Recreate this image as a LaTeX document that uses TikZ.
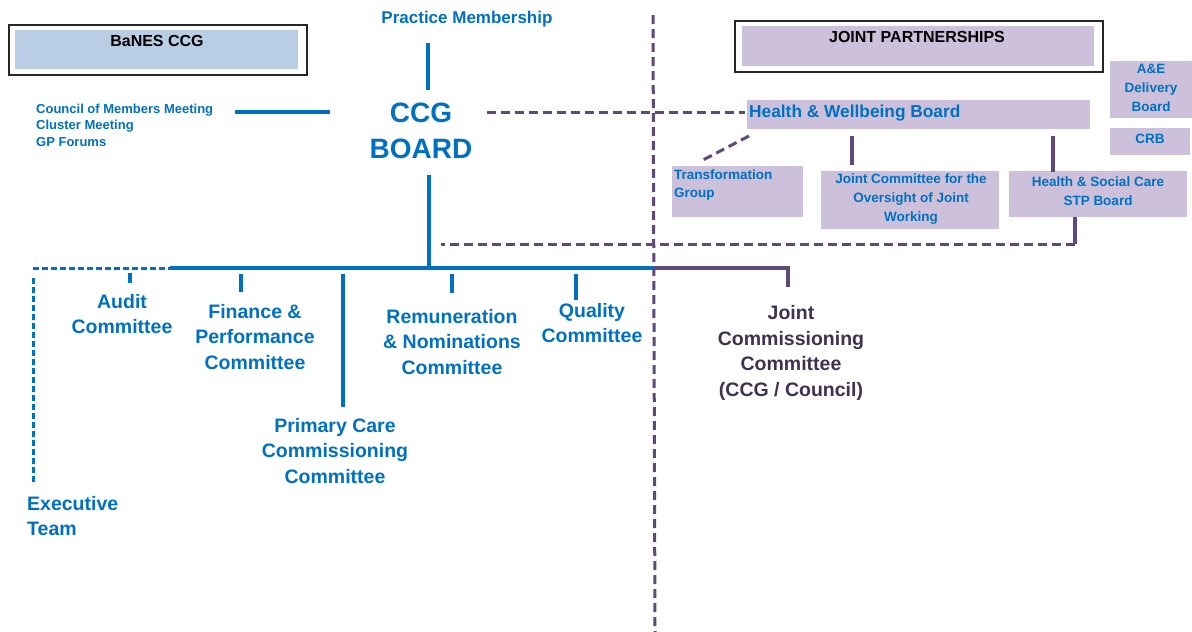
\documentclass[tikz,border=0pt]{standalone}
\usepackage{fontspec}
\setmainfont{Liberation Sans}
\definecolor{cblue}{HTML}{0070C0}
\definecolor{cpurp}{HTML}{5F497A}
\definecolor{cdark}{HTML}{3F3151}
\definecolor{lilac}{HTML}{CCC0DA}
\definecolor{lblue}{HTML}{B9CDE5}
\begin{document}
\begin{tikzpicture}[x=1pt,y=-1pt,
  bl/.style={draw=cblue,line width=3.4pt},
  bld/.style={draw=cblue,line width=3pt,dash pattern=on 6pt off 3pt},
  pl/.style={draw=cpurp,line width=3.4pt},
  pld/.style={draw=cpurp,line width=3pt,dash pattern=on 9pt off 5pt},
  big/.style={font=\bfseries\fontsize{19.5}{25.8}\selectfont,text=cblue,align=center,inner sep=0pt},
  sml/.style={font=\bfseries\fontsize{13.5}{18.8}\selectfont,text=cblue,inner sep=0pt},
  lbox/.style={fill=lilac,inner sep=0pt,anchor=north west},
  outerbox/.style={draw=black!85,line width=1.5pt,fill=white,inner sep=0pt,anchor=north west},
  head/.style={font=\bfseries\fontsize{16}{19}\selectfont,text=black,inner sep=0pt}]
\useasboundingbox (0,0) rectangle (1192,632);
\fill[white] (0,0) rectangle (1192,632);

% header boxes
\node[outerbox,minimum width=298pt,minimum height=50pt] (banesO) at (8,24) {};
\node[lbox,fill=lblue,minimum width=283pt,minimum height=39pt] (banesI) at (15,30) {};
\node[head] (banes) at (157,41) {BaNES CCG};
\node[outerbox,minimum width=368pt,minimum height=51pt] (jpO) at (734,20) {};
\node[lbox,minimum width=352pt,minimum height=40pt] (jpI) at (742,26) {};
\node[head] (jp) at (917,37) {JOINT PARTNERSHIPS};

% partnership boxes
\node[lbox,minimum width=343pt,minimum height=29pt] (hwbbox) at (747,100) {};
\node[font=\bfseries\fontsize{17.3}{20}\selectfont,text=cblue,inner sep=0pt,anchor=west] (hwb) at (749,113) {Health \& Wellbeing Board};
\node[lbox,minimum width=82pt,minimum height=57pt] (aebox) at (1110,61) {};
\node[sml,align=center] (ae) at (1151,88) {A\&E\\Delivery\\Board};
\node[lbox,minimum width=80pt,minimum height=27pt] (crbbox) at (1110,128) {};
\node[sml] (crb) at (1150,139) {CRB};
\node[lbox,minimum width=131pt,minimum height=51pt] (tgbox) at (672,166) {};
\node[sml,align=left,anchor=west] (tg) at (674,185) {Transformation\\Group};
\node[lbox,minimum width=178pt,minimum height=58pt] (jcbox) at (821,171) {};
\node[sml,align=center] (jc) at (911,199) {Joint Committee for the\\Oversight of Joint\\Working};
\node[lbox,minimum width=178pt,minimum height=46pt] (stpbox) at (1009,171) {};
\node[sml,align=center] (stp) at (1098,191) {Health \& Social Care\\STP Board};

% CCG side texts
\node[font=\bfseries\fontsize{17}{20}\selectfont,text=cblue,inner sep=0pt] (pm) at (467,19) {Practice Membership};
\node[font=\bfseries\fontsize{28}{36}\selectfont,text=cblue,align=center,inner sep=0pt] (board) at (421,131) {CCG\\BOARD};
\node[font=\bfseries\fontsize{13}{16.5}\selectfont,text=cblue,align=left,inner sep=0pt,anchor=west] (council) at (36,125) {Council of Members Meeting\\Cluster Meeting\\GP Forums};

\node[big] (audit) at (122,314) {Audit\\Committee};
\node[big] (fin) at (255,337) {Finance \&\\Performance\\Committee};
\node[big] (rem) at (452,342) {Remuneration\\\& Nominations\\Committee};
\node[big] (qual) at (592,323) {Quality\\Committee};
\node[big] (pcc) at (335,451) {Primary Care\\Commissioning\\Committee};
\node[big,align=left,anchor=west] (exec) at (27,516) {Executive\\Team};
\node[big,text=cdark] (jcc) at (791,353) {Joint\\Commissioning\\Committee\\(CCG / Council)};

% named coordinates
\coordinate (pmA) at (428,43);
\coordinate (pmB) at (428,90);
\coordinate (cL) at (235,112);
\coordinate (cR) at (330,112);
\coordinate (bR) at (487,112);
\coordinate (hwbL) at (745,112);
\coordinate (divT) at (653,15);
\coordinate (divB) at (655,632);
\coordinate (bS) at (429,175);
\coordinate (hub) at (429,268);
\coordinate (exL) at (33,268);
\coordinate (dashEnd) at (170,268);
\coordinate (div268) at (653,268);
\coordinate (jccT) at (788,268);
\coordinate (jccB) at (788,287);
\coordinate (exT) at (33,278);
\coordinate (exB) at (33,485);
\coordinate (auT) at (130,273); \coordinate (auB) at (130,283);
\coordinate (fiT) at (241,274); \coordinate (fiB) at (241,292);
\coordinate (pcT) at (343,274); \coordinate (pcB) at (343,407);
\coordinate (reT) at (452,274); \coordinate (reB) at (452,293);
\coordinate (quT) at (576,274); \coordinate (quB) at (576,300);
\coordinate (tgA) at (749,136); \coordinate (tgB) at (703,160);
\coordinate (jcA) at (852,136); \coordinate (jcB) at (852,165);
\coordinate (stA) at (1053,136); \coordinate (stB) at (1053,172);
\coordinate (spA) at (1075,217); \coordinate (spB) at (1075,244);
\coordinate (spC) at (441,244);

% connectors
\draw[bl] (pmA) -- (pmB);
\draw[bl] (cL) -- (cR);
\draw[pld] (bR) -- (hwbL);
\draw[pld] (divT) -- (divB);
\draw[bl] (bS) -- (hub);
\draw[bld] (exL) -- (dashEnd);
\draw[bl] (dashEnd) -- (div268);
\draw[pl] (div268) -- (jccT) -- (jccB);
\draw[bld] (exT) -- (exB);
\draw[bl] (auT) -- (auB);
\draw[bl] (fiT) -- (fiB);
\draw[bl] (pcT) -- (pcB);
\draw[bl] (reT) -- (reB);
\draw[bl] (quT) -- (quB);
\draw[pld] (tgA) -- (tgB);
\draw[pl] (jcA) -- (jcB);
\draw[pl] (stA) -- (stB);
\draw[pl] (spA) -- (spB);
\draw[pld] (spB) -- (spC);
\end{tikzpicture}
\end{document}
